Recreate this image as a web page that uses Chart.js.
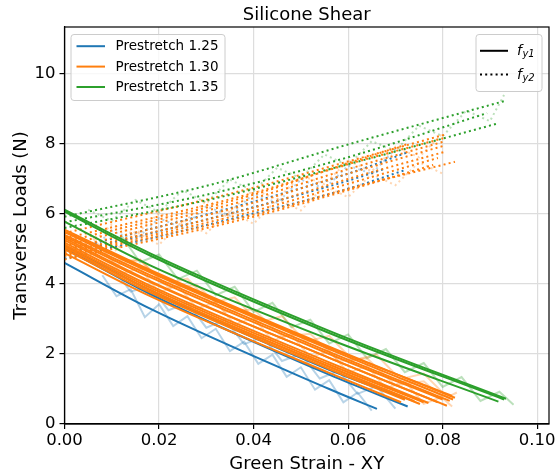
<!DOCTYPE html>
<html>
<head>
<meta charset="utf-8">
<script src="https://cdn.jsdelivr.net/npm/chart.js@4/dist/chart.umd.min.js"></script>
<style>
 html,body{margin:0;padding:0;background:#fff;}
 #wrap{width:558px;height:475px;}
</style>
</head>
<body>
<div id="wrap"><canvas id="chart"></canvas></div>
<script>
const TITLE="Silicone Shear";
const X_LABEL="Green Strain - XY";
const Y_LABEL="Transverse Loads (N)";
const groups=["Prestretch 1.25","Prestretch 1.30","Prestretch 1.35"];
const colors=["#1f77b4","#ff7f0e","#2ca02c"];
const rawColors=["rgba(31,119,180,0.32)","rgba(255,127,14,0.32)","rgba(44,160,44,0.32)"];
const xTicks=[0,0.02,0.04,0.06,0.08,0.10];
const yTicks=[0,2,4,6,8,10];

// fitted f_y1 (solid), one point list per test: [strain, load]
const fy1_125=[
 [[0,4.60],[0.018,3.30],[0.056,1.00],[0.0661,0.43]],
 [[0,5.02],[0.018,3.72],[0.056,1.41],[0.0726,0.50]],
 [[0,5.10],[0.018,3.83],[0.056,1.55],[0.0721,0.73]]
];
const fy1_130=[
 [[0,5.55],[0.018,4.41],[0.056,2.21],[0.0826,0.75]],
 [[0,5.50],[0.018,4.37],[0.056,2.18],[0.0820,0.80]],
 [[0,5.48],[0.018,4.34],[0.056,2.14],[0.0822,0.70]],
 [[0,5.40],[0.018,4.26],[0.056,2.06],[0.0815,0.66]],
 [[0,5.36],[0.018,4.20],[0.056,2.00],[0.0800,0.70]],
 [[0,5.31],[0.018,4.09],[0.056,1.89],[0.0809,0.52]],
 [[0,5.25],[0.018,4.06],[0.056,1.89],[0.0790,0.62]],
 [[0,5.18],[0.018,3.96],[0.056,1.76],[0.0770,0.60]],
 [[0,5.12],[0.018,3.90],[0.056,1.70],[0.0760,0.62]],
 [[0,5.05],[0.018,3.83],[0.056,1.63],[0.0752,0.57]],
 [[0,5.06],[0.018,3.84],[0.056,1.64],[0.0740,0.65]],
 [[0,4.99],[0.018,3.77],[0.056,1.57],[0.0720,0.69]],
 [[0,4.88],[0.018,3.66],[0.056,1.46],[0.0712,0.62]]
];
const fy1_135=[
 [[0,6.12],[0.018,4.88],[0.056,2.66],[0.0934,0.72]],
 [[0,6.07],[0.018,4.82],[0.056,2.60],[0.0930,0.70]],
 [[0,5.78],[0.018,4.54],[0.056,2.42],[0.0918,0.64]]
];

// fitted f_y2 (dotted)
const fy2_125=[
 [[0,4.95],[0.036,6.20],[0.060,7.15],[0.0724,7.75]],
 [[0,4.72],[0.036,5.88],[0.060,6.72],[0.0720,7.25]],
 [[0,4.85],[0.036,6.05],[0.060,6.95],[0.0680,7.30]]
];
const fy2_130=[
 [[0,5.45],[0.040,6.75],[0.060,7.50],[0.0803,8.26]],
 [[0,5.30],[0.040,6.60],[0.060,7.42],[0.0803,8.17]],
 [[0,5.20],[0.040,6.55],[0.060,7.45],[0.0727,8.00]],
 [[0,5.10],[0.040,6.45],[0.060,7.28],[0.0803,8.07]],
 [[0,4.98],[0.040,6.32],[0.060,7.15],[0.0803,7.95]],
 [[0,4.90],[0.040,6.18],[0.060,7.00],[0.0803,7.77]],
 [[0,4.84],[0.040,6.08],[0.060,6.86],[0.0790,7.60]],
 [[0,4.80],[0.040,5.98],[0.060,6.72],[0.0826,7.49]],
 [[0,4.70],[0.040,5.92],[0.060,6.68],[0.0780,7.40]]
];
const fy2_135=[
 [[0,5.92],[0.0308,6.83],[0.0604,8.00],[0.0932,9.23]],
 [[0,5.76],[0.0310,6.58],[0.0600,7.62],[0.0894,8.88]],
 [[0,5.60],[0.0310,6.42],[0.0600,7.42],[0.0918,8.59]]
];

// raw (noisy) measurements, drawn faint behind the fits
const raw1_125a=[[0.008,4.25],[0.011,3.65],[0.014,3.85],[0.017,3.05],[0.020,3.42],[0.023,2.80],[0.026,3.08],[0.029,2.45],[0.032,2.72],[0.035,2.08],[0.038,2.35],[0.041,1.72],[0.044,1.98],[0.047,1.35],[0.050,1.62],[0.053,0.98],[0.056,1.25],[0.059,0.62],[0.062,0.90],[0.065,0.38]];
const raw1_125b=[[0.010,4.50],[0.014,3.78],[0.018,3.95],[0.022,3.25],[0.026,3.46],[0.030,2.75],[0.034,2.98],[0.038,2.28],[0.042,2.48],[0.046,1.80],[0.050,2.00],[0.054,1.30],[0.058,1.52],[0.062,0.86],[0.066,1.08],[0.070,0.44]];
const raw1_130a=[[0.008,4.98],[0.012,4.30],[0.016,4.45],[0.020,3.76],[0.024,3.96],[0.028,3.30],[0.032,3.48],[0.036,2.84],[0.040,3.04],[0.044,2.38],[0.048,2.56],[0.052,1.90],[0.056,2.10],[0.060,1.46],[0.064,1.66],[0.068,1.02],[0.072,1.22],[0.076,0.58],[0.080,0.78]];
const raw1_130b=[[0.010,4.67],[0.016,4.68],[0.022,3.90],[0.028,3.97],[0.034,3.20],[0.040,3.28],[0.046,2.50],[0.052,2.58],[0.058,1.80],[0.064,1.88],[0.070,1.10],[0.076,1.22],[0.082,0.50]];
const raw1_130c=[[0.006,5.30],[0.011,4.55],[0.016,4.70],[0.021,4.00],[0.026,4.15],[0.031,3.45],[0.036,3.62],[0.041,2.90],[0.046,3.08],[0.051,2.35],[0.056,2.52],[0.061,1.82],[0.066,1.98],[0.071,1.28],[0.076,1.44],[0.081,0.76],[0.083,0.90]];
const raw1_135=[[0.012,5.38],[0.016,4.62],[0.020,4.84],[0.024,4.14],[0.028,4.38],[0.032,3.68],[0.036,3.92],[0.040,3.20],[0.044,3.46],[0.048,2.76],[0.052,2.98],[0.056,2.30],[0.060,2.56],[0.064,1.88],[0.068,2.14],[0.072,1.48],[0.076,1.74],[0.080,1.06],[0.084,1.34],[0.088,0.66],[0.092,0.92],[0.095,0.55]];
const raw2_125=[[0.005,4.90],[0.010,5.52],[0.015,5.25],[0.020,5.88],[0.025,5.60],[0.030,6.22],[0.035,5.95],[0.040,6.58],[0.045,6.32],[0.050,6.98],[0.055,6.72],[0.060,7.38],[0.065,7.15],[0.070,7.85]];
const raw2_130a=[[0.005,5.05],[0.010,5.70],[0.015,5.40],[0.020,6.02],[0.025,5.72],[0.030,6.38],[0.035,6.05],[0.040,6.70],[0.045,6.42],[0.050,7.10],[0.055,6.85],[0.060,7.52],[0.065,7.22],[0.070,7.92],[0.075,7.62],[0.080,8.30]];
const raw2_130b=[[0.005,5.20],[0.010,4.85],[0.015,5.50],[0.020,5.12],[0.025,5.80],[0.030,5.45],[0.035,6.08],[0.040,5.72],[0.045,6.42],[0.050,6.10],[0.055,6.80],[0.060,6.48],[0.065,7.14],[0.070,6.82],[0.075,7.48],[0.080,7.15]];
const raw2_135=[[0.005,6.12],[0.010,5.80],[0.015,6.40],[0.020,6.05],[0.025,6.68],[0.030,6.32],[0.035,6.98],[0.040,6.65],[0.045,7.32],[0.050,7.02],[0.055,7.70],[0.060,7.38],[0.065,8.08],[0.070,7.80],[0.075,8.52],[0.080,8.22],[0.085,8.95],[0.090,8.65],[0.093,9.40]];

const FONT="'DejaVu Sans', sans-serif";
Chart.defaults.font.family=FONT;
Chart.defaults.color="#000";
const DOTS=[2,3.2];

function fitSet(pts,ci,dotted){
 return {
  data:pts.map(p=>({x:p[0],y:p[1]})),
  borderColor:colors[ci],borderWidth:2,
  borderDash:dotted?DOTS:[],
  pointRadius:0,showLine:true,fill:false,
  cubicInterpolationMode:"monotone",
  order:3-ci
 };
}
function rawSet(pts,ci,dotted){
 return {
  data:pts.map(p=>({x:p[0],y:p[1]})),
  borderColor:rawColors[ci],borderWidth:2,
  borderDash:dotted?DOTS:[],
  pointRadius:0,showLine:true,fill:false,tension:0,
  order:10
 };
}

const datasets=[];
[fy1_125,fy1_130,fy1_135].forEach((g,ci)=>g.forEach(p=>datasets.push(fitSet(p,ci,false))));
[fy2_125,fy2_130,fy2_135].forEach((g,ci)=>g.forEach(p=>datasets.push(fitSet(p,ci,true))));
[[raw1_125a,0],[raw1_125b,0],[raw1_130a,1],[raw1_130b,1],[raw1_130c,1],[raw1_135,2]].forEach(r=>datasets.push(rawSet(r[0],r[1],false)));
[[raw2_125,0],[raw2_130a,1],[raw2_130b,1],[raw2_135,2]].forEach(r=>datasets.push(rawSet(r[0],r[1],true)));

function box(ctx,x,y,w,h){
 ctx.beginPath();
 if(ctx.roundRect) ctx.roundRect(x,y,w,h,3); else ctx.rect(x,y,w,h);
 ctx.fillStyle="rgba(255,255,255,0.8)";ctx.fill();
 ctx.strokeStyle="#cccccc";ctx.lineWidth=1;ctx.stroke();
}

const decor={
 id:"decor",
 afterDraw(c){
  const {ctx,chartArea:a}=c;
  ctx.save();
  // axes frame
  ctx.strokeStyle="#000";ctx.lineWidth=1.2;
  ctx.strokeRect(a.left,a.top,a.right-a.left,a.bottom-a.top);
  // title
  ctx.fillStyle="#000";ctx.font="18px "+FONT;
  ctx.textAlign="center";ctx.textBaseline="alphabetic";
  ctx.fillText(TITLE,(a.left+a.right)/2,19.5);

  // prestretch legend
  box(ctx,71,34.5,154,66);
  ctx.font="13.5px "+FONT;ctx.textAlign="left";ctx.textBaseline="middle";
  const rows=[46.2,66.6,87];
  groups.forEach((g,i)=>{
   ctx.strokeStyle=colors[i];ctx.lineWidth=2;ctx.setLineDash([]);
   ctx.beginPath();ctx.moveTo(76.5,rows[i]);ctx.lineTo(105,rows[i]);ctx.stroke();
   ctx.fillStyle="#000";ctx.fillText(g,115.5,rows[i]+0.5);
  });

  // component legend
  box(ctx,476,34.5,66,57);
  const rows2=[50.8,74.6];
  ["1","2"].forEach((s,i)=>{
   ctx.strokeStyle="#000";ctx.lineWidth=2;ctx.setLineDash(i?DOTS:[]);
   ctx.beginPath();ctx.moveTo(480,rows2[i]);ctx.lineTo(508,rows2[i]);ctx.stroke();
   ctx.setLineDash([]);
   ctx.fillStyle="#000";ctx.textBaseline="alphabetic";
   ctx.font="italic 14px "+FONT;
   ctx.fillText("f",517,rows2[i]+4);
   const w=ctx.measureText("f").width;
   ctx.font="italic 10px "+FONT;
   ctx.fillText("y"+s,517+w+0.5,rows2[i]+6.5);
  });
  ctx.restore();
 }
};

new Chart(document.getElementById("chart"),{
 type:"scatter",
 data:{datasets},
 options:{
  responsive:true,maintainAspectRatio:false,animation:false,
  devicePixelRatio:1,
  layout:{padding:{top:27,right:9,left:0,bottom:0}},
  plugins:{legend:{display:false},tooltip:{enabled:false},title:{display:false}},
  scales:{
   x:{
    type:"linear",min:0,max:0.1025,
    afterBuildTicks:s=>{s.ticks=xTicks.map(v=>({value:v}));},
    afterFit:s=>{s.height=51;},
    ticks:{font:{size:16.5},color:"#000",padding:2,callback:v=>v.toFixed(2)},
    grid:{color:"#dddddd",lineWidth:1.2,tickColor:"#000",tickLength:5},
    border:{color:"#000",width:1.2},
    title:{display:true,text:X_LABEL,font:{size:18},color:"#000",padding:{top:0,bottom:0}}
   },
   y:{
    type:"linear",min:0,max:11.34,
    afterBuildTicks:s=>{s.ticks=yTicks.map(v=>({value:v}));},
    afterFit:s=>{s.width=64.5;},
    ticks:{font:{size:16.5},color:"#000",padding:4,callback:v=>String(v)},
    grid:{color:"#dddddd",lineWidth:1.2,tickColor:"#000",tickLength:5},
    border:{color:"#000",width:1.2},
    title:{display:true,text:Y_LABEL,font:{size:18},color:"#000",padding:{top:11,bottom:0}}
   }
  }
 },
 plugins:[decor]
});
</script>
</body>
</html>
